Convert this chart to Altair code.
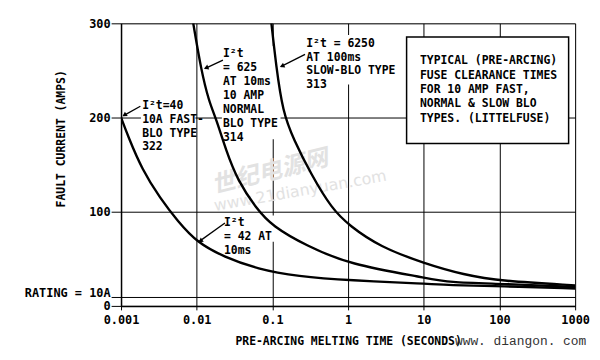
import altair as alt
import pandas as pd

# ---- curve data (time in s, current in A) ----
fast_t = [0.001, 0.00124, 0.00189, 0.0033, 0.0056, 0.0102, 0.023, 0.064, 0.214, 1.05, 10.5, 21, 105, 1000]
fast_i = [200, 180, 145, 114, 90, 67, 52, 39, 31.4, 27, 23.7, 22, 21, 18.5]

normal_t = [0.009, 0.0114, 0.0145, 0.018, 0.0244, 0.0348, 0.0606, 0.1, 0.28, 1.03, 10.5, 21, 105, 1000]
normal_i = [300, 251, 217, 199, 165, 133, 104, 84.5, 64, 44, 30, 25, 23.5, 20]

slow_t = [0.097, 0.112, 0.137, 0.19, 0.323, 0.61, 1.05, 2.6, 10.2, 34, 105, 1000]
slow_i = [300, 255, 206, 177, 140, 103, 85, 63, 45, 33, 26.4, 21.8]

x_ticks = [0.001, 0.01, 0.1, 1, 10, 100, 1000]
y_ticks = [0, 10, 100, 200, 300]

# ---- annotations ----
lab1 = ["I²t=40", "10A FAST-", "BLO TYPE", "322"]
lab2 = ["I²t", "= 625", "AT 10ms", "10 AMP", "NORMAL", "BLO TYPE", "314"]
lab3 = ["I²t = 6250", "AT 100ms", "SLOW-BLO TYPE", "313"]
lab4 = ["I²t", "= 42 AT", "10ms"]
box_lines = ["TYPICAL (PRE-ARCING)", "FUSE CLEARANCE TIMES", "FOR 10 AMP FAST,",
             "NORMAL & SLOW BLO", "TYPES. (LITTELFUSE)"]

lab_t = [0.0019, 0.0222, 0.28, 0.0229]
lab_i = [218.7, 273.4, 284.7, 93.8]

# label background (white) rectangles: t, t2, i, i2
bg_t = [0.00183, 0.0215, 0.27, 0.0225]
bg_t2 = [0.0096, 0.128, 7.0, 0.113]
bg_i = [220, 276, 287.5, 96]
bg_i2 = [163, 177, 235, 68]

# arrows: tail (t, i) -> tip (t2, i2), head position and angle
ar_t = [0.0018, 0.0222, 0.27, 0.0236]
ar_i = [212, 261, 267, 88]
ar_t2 = [0.00108, 0.0128, 0.129, 0.0106]
ar_i2 = [202, 252, 254, 68]
head_t = [0.00113, 0.0136, 0.137, 0.0114]
head_i = [203, 253, 255, 69.5]
head_ang = [237, 248, 244, 236]

box_t, box_t2, box_i, box_i2 = [5.93], [820], [172.4], [285.4]
box_text_t, box_text_i = [8.9], [266]

FONT = "DejaVu Sans Mono"

curves = pd.concat([
    pd.DataFrame({"t": fast_t, "i": fast_i, "s": "fast"}),
    pd.DataFrame({"t": normal_t, "i": normal_i, "s": "normal"}),
    pd.DataFrame({"t": slow_t, "i": slow_i, "s": "slow"}),
])

xenc = alt.X("t:Q",
             scale=alt.Scale(type="log", domain=[0.001, 1000]),
             axis=alt.Axis(values=x_ticks, format="~g", grid=True, gridColor="black",
                           gridWidth=1, gridOpacity=1, tickColor="black", tickSize=4,
                           tickWidth=1, domainColor="black", domainWidth=1.5,
                           labelFont=FONT, labelFontSize=12, labelFontWeight="bold",
                           labelColor="black", labelPadding=5, labelFlush=False,
                           labelOverlap=False,
                           title="PRE-ARCING MELTING TIME (SECONDS)", titleFont=FONT,
                           titleFontSize=11.5, titleFontWeight="bold", titleColor="black",
                           titleY=36, titleBaseline="middle"))
yenc = alt.Y("i:Q",
             scale=alt.Scale(domain=[0, 300]),
             axis=alt.Axis(values=y_ticks,
                           labelExpr="datum.value == 10 ? 'RATING = 10A' : datum.label",
                           labelBaseline={"condition": {"test": "datum.value == 10",
                                                        "value": "alphabetic"},
                                          "value": "middle"},
                           grid=True, gridColor="black", gridWidth=1, gridOpacity=1,
                           tickColor="black", tickSize=10, tickWidth=1,
                           domainColor="black", domainWidth=1.5,
                           labelFont=FONT, labelFontSize=12, labelFontWeight="bold",
                           labelColor="black", labelPadding=1, labelOverlap=False,
                           labelFlush=False,
                           title="FAULT CURRENT (AMPS)", titleFont=FONT, titleFontSize=11.5,
                           titleFontWeight="bold", titleColor="black", titleAngle=270,
                           titleX=-60, titleY=116, titleAlign="center",
                           titleBaseline="middle"))

bg = alt.Chart(pd.DataFrame({"t": bg_t, "t2": bg_t2, "i": bg_i, "i2": bg_i2})).mark_rect(
    color="white").encode(x=xenc, x2="t2:Q", y=yenc, y2="i2:Q")

lines = alt.Chart(curves).mark_line(color="black", strokeWidth=2.4,
                                    interpolate="basis", clip=True).encode(
    x=xenc, y=yenc, detail="s:N", order="t:Q")

arrows = alt.Chart(pd.DataFrame({"t": ar_t, "i": ar_i, "t2": ar_t2, "i2": ar_i2})).mark_rule(
    color="black", strokeWidth=1.3).encode(x=xenc, y=yenc, x2="t2:Q", y2="i2:Q")

heads = alt.Chart(pd.DataFrame({"t": head_t, "i": head_i, "a": head_ang})).mark_point(
    shape="triangle", filled=True, color="black", size=28, opacity=1).encode(
    x=xenc, y=yenc, angle=alt.Angle("a:Q", scale=None))

texts = []
for k, lab in enumerate([lab1, lab2, lab3, lab4]):
    texts.append(alt.Chart(pd.DataFrame({"t": [lab_t[k]], "i": [lab_i[k]]})).mark_text(
        align="left", baseline="top", font=FONT, fontSize=11.5, fontWeight="bold",
        lineHeight=14, color="black").encode(x=xenc, y=yenc, text=alt.value(lab)))

box = alt.Chart(pd.DataFrame({"t": box_t, "t2": box_t2, "i": box_i, "i2": box_i2})).mark_rect(
    fill="white", stroke="black", strokeWidth=1.5).encode(x=xenc, x2="t2:Q", y=yenc, y2="i2:Q")

box_text = alt.Chart(pd.DataFrame({"t": box_text_t, "i": box_text_i})).mark_text(
    align="left", baseline="top", font=FONT, fontSize=11.5, fontWeight="bold",
    lineHeight=14.5, color="black").encode(x=xenc, y=yenc, text=alt.value(box_lines))

wm1 = alt.Chart(pd.DataFrame({"t": [0.093], "i": [141.7]})).mark_text(
    font="Noto Sans CJK SC", fontSize=24, fontStyle="italic", fontWeight="bold",
    color="#e2e2e2", angle=346, align="center", baseline="middle").encode(
    x=xenc, y=yenc, text=alt.value("世纪电源网"))
wm2 = alt.Chart(pd.DataFrame({"t": [0.233], "i": [122]})).mark_text(
    font="DejaVu Sans", fontSize=16, color="#e2e2e2", angle=350, align="center",
    baseline="middle").encode(x=xenc, y=yenc, text=alt.value("www.21dianyuan.com"))
wm3 = alt.Chart(pd.DataFrame({"t": [1.0], "i": [0.0]})).mark_text(
    font="Liberation Mono", fontSize=13, color="#333333", align="center",
    baseline="middle").encode(x=alt.value(403), y=alt.value(320),
                              text=alt.value("www. diangon. com"))

chart = alt.layer(bg, wm1, wm2, lines, arrows, heads, *texts, box, box_text, wm3).properties(
    width=458, height=285, autosize="none",
    padding={"left": 114, "top": 14, "right": 17, "bottom": 42},
).configure_view(stroke="black", strokeWidth=1.5).configure(background="white")

chart.save("out.html", embed_options={"renderer": "svg", "actions": False})
